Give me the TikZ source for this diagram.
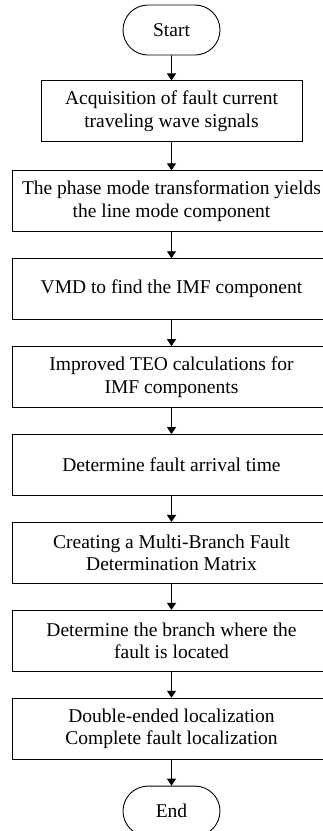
\documentclass[tikz,border=0pt]{standalone}
\usepackage{fontspec}
\setmainfont{Liberation Serif}
\usetikzlibrary{arrows.meta,positioning,shapes.misc}

\tikzset{
  termbox/.style={draw,rounded rectangle,minimum width=101pt,minimum height=50pt,inner sep=2pt,font=\fontsize{19.5}{22.5}\selectfont},
  procbox/.style={draw,rectangle,minimum width=319pt,minimum height=61pt,inner sep=2pt,align=center,font=\fontsize{19.5}{22.5}\selectfont},
  flowarrow/.style={-{Triangle[length=7pt,width=9pt]}},
}

\begin{document}
\begin{tikzpicture}[node distance=26pt,line width=0.9pt]
  \useasboundingbox (0,0) rectangle (323pt,-831pt);
  % Start terminal
  \node[termbox] (start) at (171.5pt,-30pt) {Start};
  % Processing steps
  \node[procbox,minimum width=261pt,below=25pt of start] (acq) {Acquisition of fault current\\traveling wave signals};
  \node[procbox,below=28pt of acq] (phase) {The phase mode transformation yields\\the line mode component};
  \node[procbox,below=of phase] (vmd) {VMD to find the IMF component};
  \node[procbox,below=of vmd] (teo) {Improved TEO calculations for\\IMF components};
  \node[procbox,below=of teo] (arrival) {Determine fault arrival time};
  \node[procbox,below=of arrival] (matrix) {Creating a Multi-Branch Fault\\Determination Matrix};
  \node[procbox,below=of matrix] (branch) {Determine the branch where the\\fault is located};
  \node[procbox,below=of branch] (locate) {Double-ended localization\\Complete fault localization};
  % End terminal
  \node[termbox,below=of locate] (end) {End};
  % Connectors
  \foreach \a/\b in {start/acq,acq/phase,phase/vmd,vmd/teo,teo/arrival,arrival/matrix,matrix/branch,branch/locate,locate/end}
    \draw[flowarrow] (\a) -- (\b);
\end{tikzpicture}
\end{document}
